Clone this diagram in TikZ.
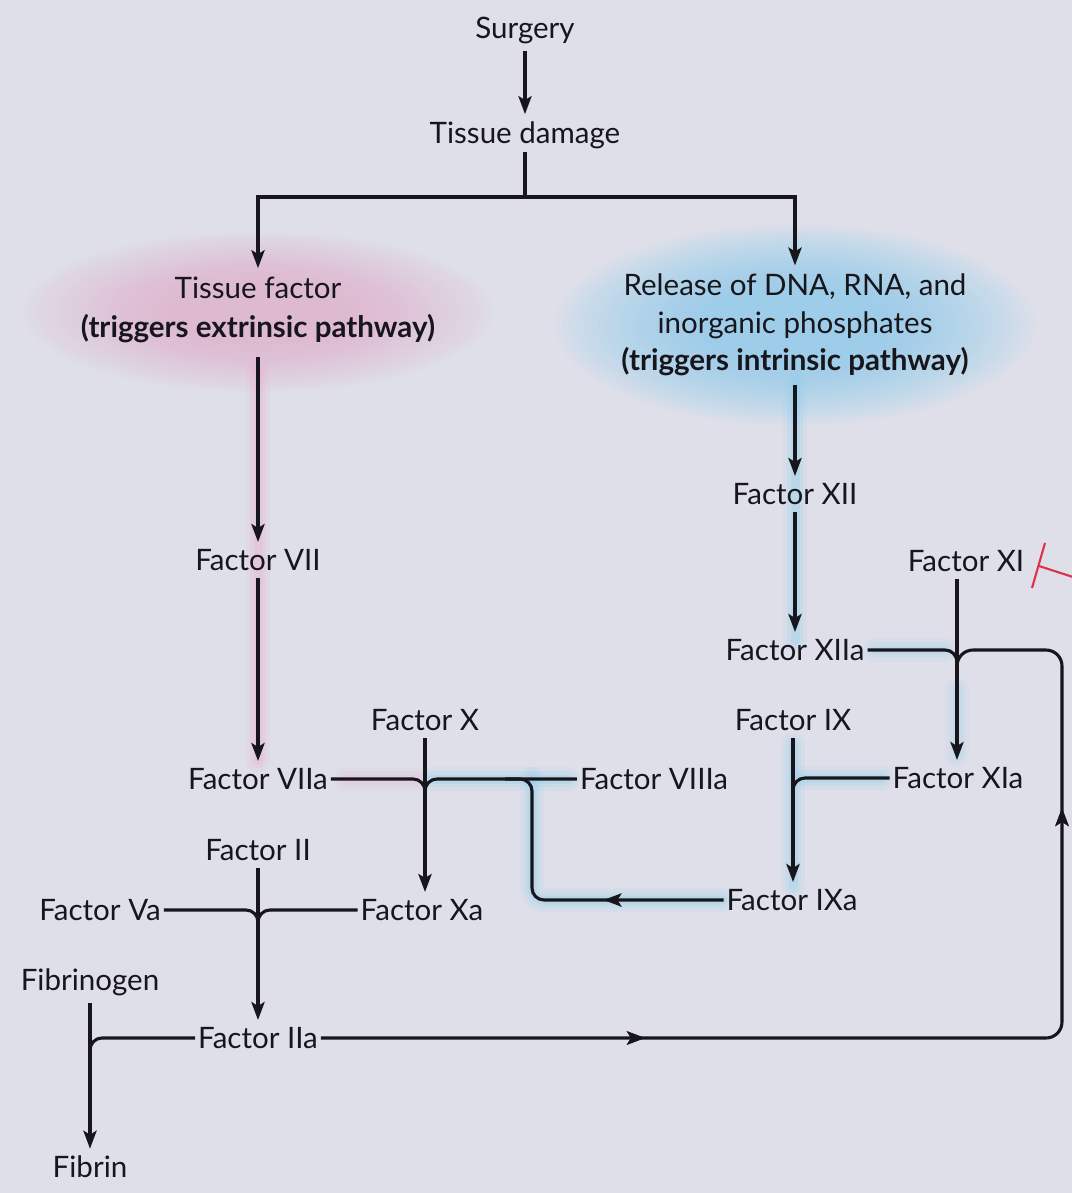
\documentclass[tikz,border=0pt]{standalone}
\usepackage{fontspec}
\setmainfont{Lato}
\usetikzlibrary{arrows.meta,decorations.markings,calc}
\definecolor{bgc}{RGB}{222,223,233}
\definecolor{ink}{RGB}{22,22,28}
\definecolor{pinkglow}{RGB}{238,168,200}
\definecolor{blueglow}{RGB}{135,205,238}
\definecolor{inhib}{RGB}{222,50,72}
\tikzset{
  lbl/.style={font=\fontsize{21}{28}\selectfont, text=ink, inner sep=2pt},
  ln/.style={draw=ink, line width=2.2pt, rounded corners=0.3cm},
  tip/.style={-{Stealth[length=0.45cm,width=0.33cm,inset=0.1cm]}},
  arr/.style={ln, tip},
  pglow/.style={draw=pinkglow, line cap=round, line join=round, rounded corners=0.3cm},
  bglow/.style={draw=blueglow, line cap=round, line join=round, rounded corners=0.3cm},
  marktip/.style={postaction={decorate}, decoration={markings, mark=at position #1 with {\arrow{Stealth[length=0.45cm,width=0.33cm,inset=0.1cm]}}}}
}
\begin{document}
\begin{tikzpicture}[x=0.025cm,y=-0.025cm]
\useasboundingbox (0,0) rectangle (1072,1193);
\fill[bgc] (0,0) rectangle (1072,1193);

% text glows
\foreach \s in {1.00,0.97,...,0.40}
  \fill[pinkglow, opacity=0.04] (258,312) ellipse ({235*\s} and {80*\s});
\foreach \s in {1.00,0.97,...,0.40}
  \fill[blueglow, opacity=0.05] (795,325) ellipse ({240*\s} and {100*\s});

% line glows
\foreach \w/\o in {24/0.10,16/0.15,9/0.22}{
  \draw[pglow, line width=\w*0.025cm, opacity=\o] (258,370) -- (258,760);
  \draw[pglow, line width=\w*0.025cm, opacity=\o*0.6] (345,779) -- (418,779);
  \draw[bglow, line width=\w*0.025cm, opacity=\o] (795,385) -- (795,640);
  \draw[bglow, line width=\w*0.025cm, opacity=\o*0.7] (875,650) -- (945,650);
  \draw[bglow, line width=\w*0.025cm, opacity=\o*0.6] (957,690) -- (957,755);
  \draw[bglow, line width=\w*0.025cm, opacity=\o] (793,745) -- (793,885);
  \draw[bglow, line width=\w*0.025cm, opacity=\o] (800,778) -- (882,778);
  \draw[bglow, line width=\w*0.025cm, opacity=\o] (722,900) -| (532,779);
  \draw[bglow, line width=\w*0.025cm, opacity=\o] (432,779) -- (568,779);
}

% nodes
\node[lbl] (surg) at (525,30) {Surgery};
\node[lbl] (tdam) at (525,135) {Tissue damage};
\node[lbl, align=center] (tf) at (258,310) {Tissue factor\\\textbf{(triggers extrinsic pathway)}};
\node[lbl, align=center, font=\fontsize{21}{26.5}\selectfont] (rel) at (795,325) {Release of DNA, RNA, and\\inorganic phosphates\\\textbf{(triggers intrinsic pathway)}};
\node[lbl] (f7) at (258,560) {Factor VII};
\node[lbl] (f7a) at (258,779) {Factor VIIa};
\node[lbl] (f12) at (795,494) {Factor XII};
\node[lbl] (f12a) at (795,650) {Factor XIIa};
\node[lbl] (f11) at (966,561) {Factor XI};
\node[lbl] (f11a) at (958,778) {Factor XIa};
\node[lbl] (f10) at (425,720) {Factor X};
\node[lbl] (f10a) at (422,910) {Factor Xa};
\node[lbl] (f8a) at (654,779) {Factor VIIIa};
\node[lbl] (f9) at (793,720) {Factor IX};
\node[lbl] (f9a) at (792,900) {Factor IXa};
\node[lbl] (f2) at (258,850) {Factor II};
\node[lbl] (f2a) at (258,1038) {Factor IIa};
\node[lbl] (f5a) at (100,910) {Factor Va};
\node[lbl] (fbg) at (90,982) {Fibrinogen};
\node[lbl] (fbn) at (90,1167) {Fibrin};

% junction coordinates
\coordinate (split) at (525,197);
\coordinate (m11) at (957,672);
\coordinate (m10) at (425,795);
\coordinate (m9) at (793,798);
\coordinate (m2) at (258,928);
\coordinate (mf) at (90,1056);
\coordinate (loopBR) at (1062,1038);
\coordinate (loopTR) at (1062,650);
\coordinate (brX) at (532,779);
\coordinate (brEnd) at (505,779);

% connectors
\draw[arr, shorten <=3pt, shorten >=3pt] (surg) -- (tdam);
\draw[ln] (tdam.south) -- (split);
\draw[ln, tip, rounded corners=0pt, shorten >=4pt] (split) -| (tf.north);
\draw[ln, tip, rounded corners=0pt, shorten >=4pt] (split) -| (rel.north);
\draw[arr, shorten <=8pt, shorten >=3pt] (tf) -- (f7);
\draw[arr, shorten <=3pt, shorten >=3pt] (f7) -- (f7a);
\draw[arr, shorten <=4pt, shorten >=3pt] (rel) -- (f12);
\draw[arr, shorten <=3pt, shorten >=3pt] (f12) -- (f12a);
\draw[arr, shorten <=3pt, shorten >=3pt] (f11.south -| m11) -- (f11a.north -| m11);
\draw[arr, shorten <=3pt, shorten >=3pt] (f10.south) -- (f10.south |- f10a.north);
\draw[arr, shorten <=3pt, shorten >=3pt] (f9.south) -- (f9.south |- f9a.north);
\draw[arr, shorten <=3pt, shorten >=3pt] (f2) -- (f2a);
\draw[arr, shorten <=3pt, shorten >=3pt] (fbg) -- (fbn);

\draw[ln] (f12a.east) -| (m11);
\draw[ln, rounded corners=0.4cm, marktip=8.1cm, marktip=24.1cm] (f2a.east) -- (loopBR) -- (loopTR) -| (m11);
\draw[ln] (f7a.east) -| (m10);
\draw[ln] (f8a.west) -| (m10);
\draw[ln, marktip=3.0cm] (f9a.west) -| (brX) -- (brEnd);
\draw[ln] (f11a.west) -| (m9);
\draw[ln] (f5a.east) -| (m2);
\draw[ln] (f10a.west) -| (m2);
\draw[ln] (f2a.west) -| (mf);

% inhibition mark (partly cut off at the right edge)
\draw[inhib, line width=1.5pt] (1032,588) -- (1045,543);
\draw[inhib, line width=1.5pt] (1039,566) -- (1076,578);
\end{tikzpicture}
\end{document}
